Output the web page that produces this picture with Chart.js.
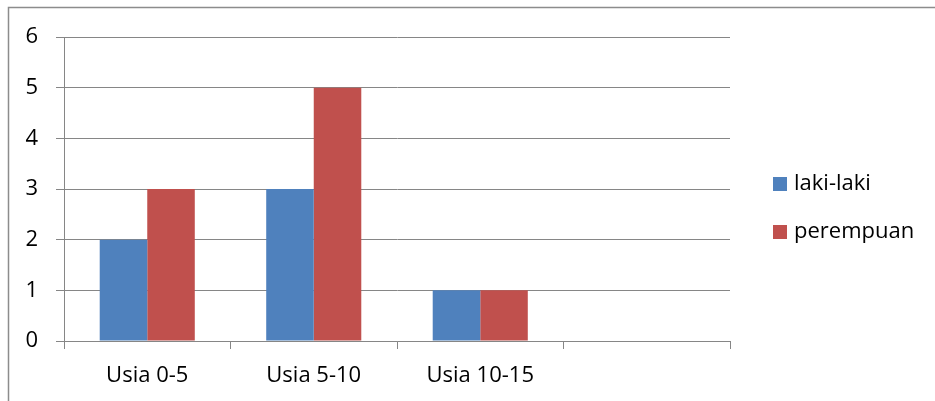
<!DOCTYPE html>
<html>
<head>
<meta charset="utf-8">
<script src="https://cdn.jsdelivr.net/npm/chart.js@4/dist/chart.umd.min.js"></script>
<style>
  html, body { margin: 0; padding: 0; background: #fff; }
  #wrap { width: 935px; height: 401px; position: relative; }
</style>
</head>
<body>
<div id="wrap"><canvas id="ageChart"></canvas></div>
<script>
const categories = ['Usia 0-5', 'Usia 5-10', 'Usia 10-15', ''];
const seriesNames = ['laki-laki', 'perempuan'];
const lakiLaki = [2, 3, 1, null];
const perempuan = [3, 5, 1, null];
const yTicks = [0, 1, 2, 3, 4, 5, 6];

const blue = '#4F81BD';
const red = '#C0504D';
const gridColor = '#868686';
const fontFamily = '"Open Sans", sans-serif';
const fontSize = 22;

// frame around the chart and the legend on the right
const framePlugin = {
    id: 'frame',
    afterDraw(chart) {
        const c = chart.ctx;
        c.save();
        c.strokeStyle = '#8c8c8c';
        c.lineWidth = 1.5;
        c.beginPath();
        c.moveTo(8.5, 401);
        c.lineTo(8.5, 7.5);
        c.lineTo(935, 7.5);
        c.stroke();

        const area = chart.chartArea;
        c.font = fontSize + 'px ' + fontFamily;
        c.textBaseline = 'middle';
        chart.data.datasets.forEach((ds, i) => {
            const y = 184 + i * 48;
            const x = area.right + 43;
            c.fillStyle = ds.backgroundColor;
            c.fillRect(x, y - 7, 14, 14);
            c.fillStyle = '#000';
            c.fillText(ds.label, x + 21, y);
        });
        c.restore();
    }
};

new Chart(document.getElementById('ageChart').getContext('2d'), {
    type: 'bar',
    data: {
        labels: categories,
        datasets: [
            { label: seriesNames[0], data: lakiLaki, backgroundColor: blue },
            { label: seriesNames[1], data: perempuan, backgroundColor: red }
        ]
    },
    options: {
        responsive: true,
        maintainAspectRatio: false,
        animation: false,
        devicePixelRatio: 1,
        layout: { padding: { top: 37, right: 205, bottom: 0, left: 0 } },
        datasets: {
            bar: { categoryPercentage: 0.571, barPercentage: 1.0, borderWidth: 0 }
        },
        plugins: {
            legend: { display: false },
            tooltip: { enabled: false }
        },
        scales: {
            x: {
                grid: {
                    offset: true,
                    drawOnChartArea: false,
                    color: gridColor,
                    tickLength: 8
                },
                border: { color: gridColor, width: 1 },
                ticks: {
                    color: '#000',
                    font: { family: fontFamily, size: fontSize },
                    padding: 14,
                    maxRotation: 0
                },
                afterFit(scale) { scale.height = 60; }
            },
            y: {
                min: 0,
                max: 6,
                afterBuildTicks(scale) { scale.ticks = yTicks.map(v => ({ value: v })); },
                grid: { color: gridColor, tickLength: 8 },
                border: { color: gridColor, width: 1 },
                ticks: {
                    color: '#000',
                    font: { family: fontFamily, size: fontSize },
                    padding: 18
                },
                afterFit(scale) { scale.width = 64; }
            }
        }
    },
    plugins: [framePlugin]
});
</script>
</body>
</html>
